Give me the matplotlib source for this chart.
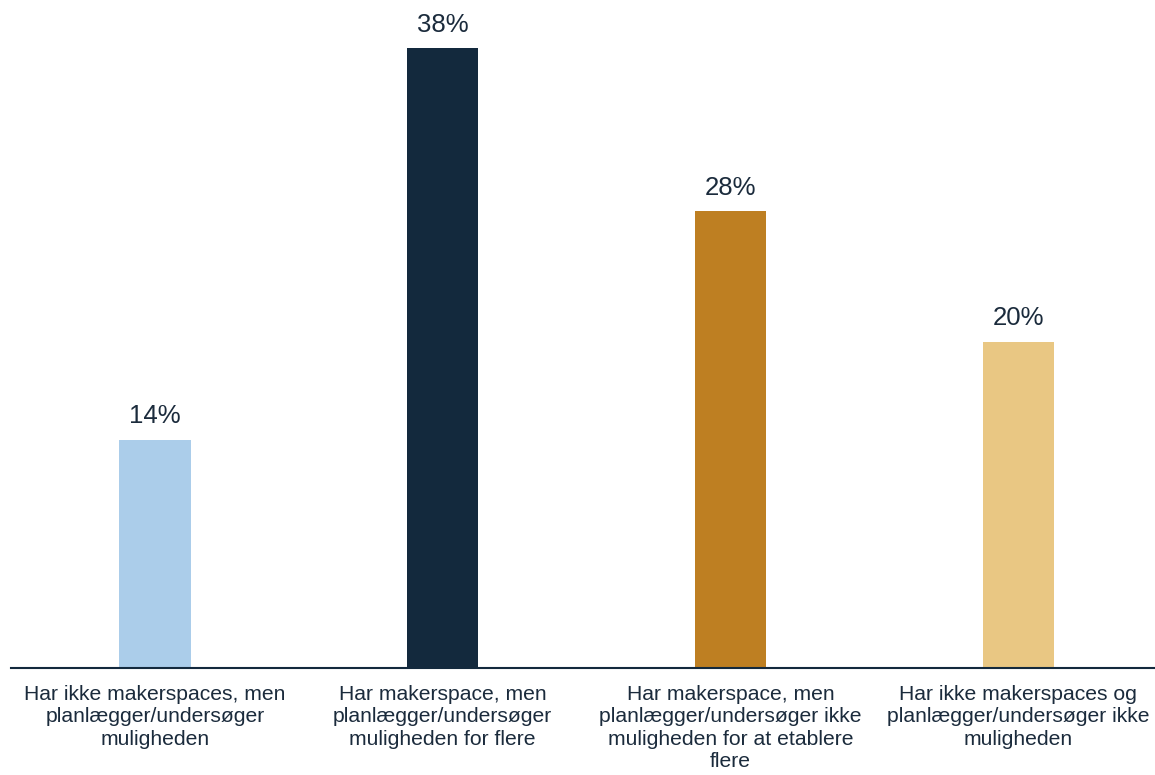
import matplotlib.pyplot as plt

# data
categories = [
    "Har ikke makerspaces, men\nplanlægger/undersøger\nmuligheden",
    "Har makerspace, men\nplanlægger/undersøger\nmuligheden for flere",
    "Har makerspace, men\nplanlægger/undersøger ikke\nmuligheden for at etablere\nflere",
    "Har ikke makerspaces og\nplanlægger/undersøger ikke\nmuligheden",
]
values = [14, 38, 28, 20]
colors = ["#ABCDEA", "#13293D", "#BE7F22", "#E9C783"]

TEXT = "#1B2B3C"
plt.rcParams["font.family"] = ["Liberation Sans", "DejaVu Sans"]

fig = plt.figure(figsize=(11.55, 7.75), dpi=100)
ax = fig.add_axes([11 / 1155, 1 - 668 / 775, 1 - 11 / 1155, 668 / 775])

x = list(range(len(categories)))
bars = ax.bar(x, values, width=0.247, color=colors)

for xi, v in zip(x, values):
    ax.annotate(f"{v}%", (xi, v), xytext=(0, 8), textcoords="offset points",
                ha="center", va="bottom", fontsize=18.5, color=TEXT)

ax.set_xlim(-0.5005, 3.476)
ax.set_ylim(0, 40.93)
ax.set_xticks(x)
ax.set_xticklabels(categories, fontsize=15.2, color=TEXT, linespacing=1.24)
ax.tick_params(axis="x", length=0, pad=12)
ax.set_yticks([])

for s in ["top", "right", "left"]:
    ax.spines[s].set_visible(False)
ax.spines["bottom"].set_color("#13293D")
ax.spines["bottom"].set_linewidth(1.5)

fig.savefig("out.png", dpi=100)
